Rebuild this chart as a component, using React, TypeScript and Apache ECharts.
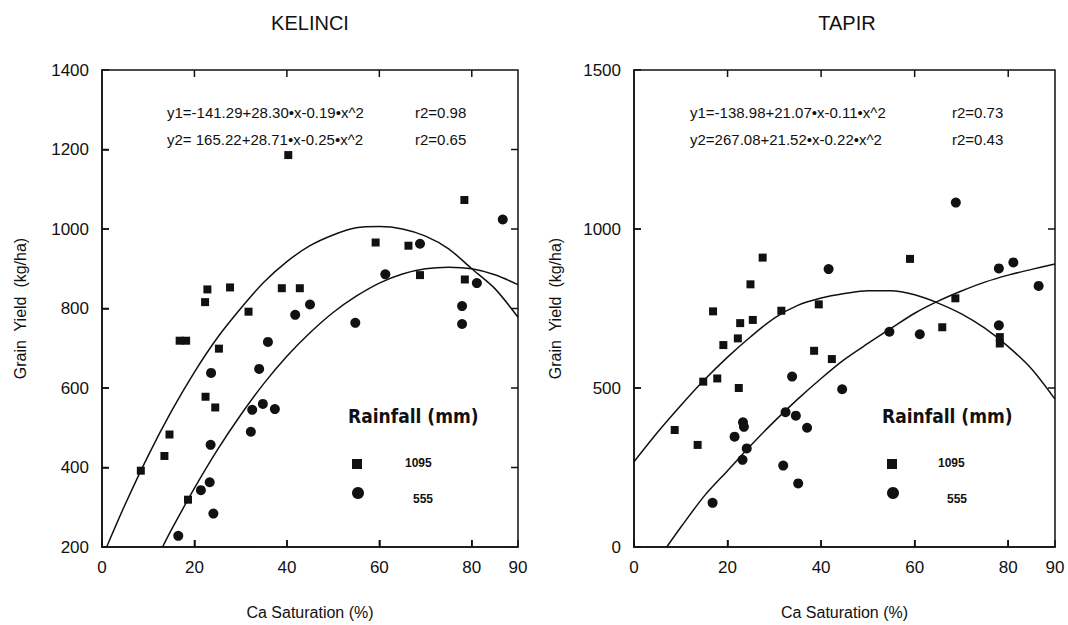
import React, { useEffect, useRef } from "react";
import * as echarts from "echarts";

// ---- KELINCI data (Ca saturation %, grain yield kg/ha) ----
const kelinci1095: number[][] = [
  [8.4, 392], [13.5, 429], [14.6, 483], [16.8, 719], [18.2, 719], [18.6, 319],
  [22.3, 816], [22.4, 578], [22.8, 848], [24.5, 551], [25.3, 699], [27.7, 853],
  [31.7, 792], [38.9, 851], [40.3, 1186], [42.8, 851], [59.2, 966], [66.3, 958],
  [68.8, 884], [78.4, 1073], [78.5, 873],
];
const kelinci555: number[][] = [
  [16.5, 228], [21.4, 343], [23.3, 363], [23.5, 457], [23.6, 638], [24.1, 284],
  [32.2, 490], [32.5, 545], [34.0, 648], [34.8, 560], [35.9, 716], [37.4, 547],
  [41.8, 784], [45.0, 810], [54.8, 764], [61.3, 886], [68.8, 963], [77.9, 806],
  [77.9, 761], [81.1, 864], [86.7, 1024],
];
// fitted curves, values
const kelinciCurveUpper: number[][] = [
  [1, 200], [5, 307], [10, 430], [15, 541], [20, 640], [25, 727], [30, 800],
  [35, 866], [40, 918], [45, 958], [50, 985], [55, 1003], [60, 1006], [65, 1000],
  [70, 982], [75, 950], [80, 900], [85, 850], [90, 778],
];
const kelinciCurveLower: number[][] = [
  [13.1, 200], [15, 243], [20, 348], [25, 445], [30, 532], [35, 611], [40, 680],
  [45, 739], [50, 790], [55, 831], [60, 864], [65, 887], [70, 900], [75, 904],
  [80, 900], [85, 885], [90, 860],
];

// ---- TAPIR data ----
const tapir1095: number[][] = [
  [8.7, 368], [13.6, 321], [14.8, 520], [16.9, 741], [17.8, 530], [19.1, 635],
  [22.2, 656], [22.4, 500], [22.7, 704], [24.9, 826], [25.4, 714], [27.5, 910],
  [31.5, 743], [38.5, 617], [39.5, 763], [42.3, 591], [59.0, 906], [65.9, 691],
  [68.7, 782], [78.2, 660], [78.2, 640],
];
const tapir555: number[][] = [
  [16.8, 139], [21.5, 347], [23.2, 274], [23.3, 392], [23.5, 378], [24.1, 310],
  [31.9, 256], [32.4, 424], [33.8, 536], [34.6, 413], [35.1, 200], [37.0, 375],
  [41.6, 874], [44.5, 496], [54.6, 677], [61.1, 669], [68.8, 1083], [78.0, 876],
  [78.0, 697], [81.1, 895], [86.5, 821],
];
const tapirCurveUpper: number[][] = [
  [0, 268], [5, 360], [10, 445], [15, 525], [20, 597], [25, 662], [30, 720],
  [35, 760], [40, 783], [45, 797], [50, 806], [55, 806], [60, 793], [65, 767],
  [70, 733], [75, 688], [80, 630], [85, 560], [90, 465],
];
const tapirCurveLower: number[][] = [
  [7, 0], [10, 62], [15, 160], [20, 240], [25, 320], [30, 395], [35, 465],
  [40, 530], [45, 590], [50, 640], [55, 688], [60, 735], [65, 773], [70, 805],
  [75, 833], [80, 855], [85, 873], [90, 890],
];

// axis ticks
const xRange = [0, 90];
const xTicks = [20, 40, 60, 80];
const yRangeKelinci = [200, 1400];
const yTicksKelinci = [400, 600, 800, 1000, 1200];
const yRangeTapir = [0, 1500];
const yTicksTapir = [500, 1000];

const titles = ["KELINCI", "TAPIR"];
const eqKelinci = ["y1=-141.29+28.30•x-0.19•x^2", "y2= 165.22+28.71•x-0.25•x^2"];
const r2Kelinci = ["r2=0.98", "r2=0.65"];
const eqTapir = ["y1=-138.98+21.07•x-0.11•x^2", "y2=267.08+21.52•x-0.22•x^2"];
const r2Tapir = ["r2=0.73", "r2=0.43"];
const legendTitle = "Rainfall (mm)";
const legendNames = ["1095", "555"];

const FONT = "Liberation Sans, Arial, sans-serif";
const INK = "#111";

export default function App() {
  const ref = useRef<HTMLDivElement>(null);
  useEffect(() => {
    document.body.style.margin = "0";
    if (!ref.current) return;
    const chart = echarts.init(ref.current, undefined, { renderer: "svg" });

    const grids = [
      { left: 102, top: 70, width: 416, height: 477, outerBoundsMode: "none" },
      { left: 634, top: 70, width: 421, height: 477, outerBoundsMode: "none" },
    ];
    const yRanges = [yRangeKelinci, yRangeTapir];
    const yTickSets = [yTicksKelinci, yTicksTapir];
    const yIntervals = [200, 500];
    const nameGapsY = [74, 71];
    const fmt = (v: number) => String(v);

    const xAxes: any[] = [];
    const yAxes: any[] = [];
    grids.forEach((g, i) => {
      xAxes.push({
        type: "value", gridIndex: i, min: xRange[0], max: xRange[1], interval: 20,
        name: "Ca Saturation (%)", nameLocation: "middle", nameGap: 57,
        nameTextStyle: { fontFamily: FONT, fontSize: 16, color: INK },
        axisLine: { show: true, lineStyle: { color: INK, width: 1.5 } },
        axisTick: { show: true, inside: true, length: 7, lineStyle: { color: INK, width: 1.5 } },
        axisLabel: { fontFamily: FONT, fontSize: 17, color: INK, margin: 12, formatter: fmt },
        splitLine: { show: false },
      });
      yAxes.push({
        type: "value", gridIndex: i, min: yRanges[i][0], max: yRanges[i][1], interval: yIntervals[i],
        name: "Grain  Yield  (kg/ha)", nameLocation: "middle", nameGap: nameGapsY[i],
        nameTextStyle: { fontFamily: FONT, fontSize: 16, color: INK },
        axisLine: { show: true, lineStyle: { color: INK, width: 1.5 } },
        axisTick: { show: true, inside: true, length: 7, lineStyle: { color: INK, width: 1.5 } },
        axisLabel: { fontFamily: FONT, fontSize: 17, color: INK, margin: 13, formatter: fmt },
        splitLine: { show: false },
      });
    });

    const scatter = (data: number[][], grid: number, symbol: string, size: number, name: string) => ({
      type: "scatter", name, xAxisIndex: grid, yAxisIndex: grid, data,
      symbol, symbolSize: size, itemStyle: { color: INK, opacity: 1 },
    });
    const curve = (data: number[][], grid: number) => ({
      type: "line", xAxisIndex: grid, yAxisIndex: grid, data, smooth: 0.3,
      showSymbol: false, symbol: "none",
      lineStyle: { color: INK, width: 1.5 },
    });

    chart.setOption({
      animation: false,
      title: [
        { text: titles[0], left: 305, top: 8, textAlign: "center",
          textStyle: { fontFamily: FONT, fontSize: 20, fontWeight: "normal", color: INK } },
        { text: titles[1], left: 842, top: 8, textAlign: "center",
          textStyle: { fontFamily: FONT, fontSize: 20, fontWeight: "normal", color: INK } },
      ],
      grid: grids,
      xAxis: xAxes,
      yAxis: yAxes,
      series: [
        curve(kelinciCurveUpper, 0),
        curve(kelinciCurveLower, 0),
        scatter(kelinci1095, 0, "rect", 8, "1095"),
        scatter(kelinci555, 0, "circle", 10, "555"),
        curve(tapirCurveUpper, 1),
        curve(tapirCurveLower, 1),
        scatter(tapir1095, 1, "rect", 8, "1095"),
        scatter(tapir555, 1, "circle", 10, "555"),
      ],
    });

    // frame and inside ticks on all four sides, positioned through the axes' scales
    const frameEls: any[] = [];
    const stroke = { stroke: INK, lineWidth: 1.5, fill: "none" };
    grids.forEach((g, i) => {
      const p0 = chart.convertToPixel({ gridIndex: i }, [xRange[0], yRanges[i][1]]) as number[];
      const p1 = chart.convertToPixel({ gridIndex: i }, [xRange[1], yRanges[i][0]]) as number[];
      const [xl, yt] = p0;
      const [xr, yb] = p1;
      frameEls.push({ type: "rect", z: 50, shape: { x: xl, y: yt, width: xr - xl, height: yb - yt }, style: { ...stroke } });
      xTicks.forEach((v) => {
        const px = (chart.convertToPixel({ gridIndex: i }, [v, yRanges[i][0]]) as number[])[0];
        frameEls.push({ type: "line", z: 50, shape: { x1: px, y1: yb, x2: px, y2: yb - 7 }, style: { ...stroke } });
        frameEls.push({ type: "line", z: 50, shape: { x1: px, y1: yt, x2: px, y2: yt + 7 }, style: { ...stroke } });
      });
      yTickSets[i].forEach((v) => {
        const py = (chart.convertToPixel({ gridIndex: i }, [xRange[0], v]) as number[])[1];
        frameEls.push({ type: "line", z: 50, shape: { x1: xl, y1: py, x2: xl + 7, y2: py }, style: { ...stroke } });
        frameEls.push({ type: "line", z: 50, shape: { x1: xr, y1: py, x2: xr - 7, y2: py }, style: { ...stroke } });
      });
    });

    const eqBlock = (x: number, rx: number, eqs: string[], r2s: string[]) => [
      { type: "text", left: x, top: 105, style: { text: eqs[0], font: `15px ${FONT}`, fill: INK } },
      { type: "text", left: rx, top: 105, style: { text: r2s[0], font: `15px ${FONT}`, fill: INK } },
      { type: "text", left: x, top: 132, style: { text: eqs[1], font: `15px ${FONT}`, fill: INK } },
      { type: "text", left: rx, top: 132, style: { text: r2s[1], font: `15px ${FONT}`, fill: INK } },
    ];
    const legendBlock = (cx: number, sqX: number, t1: number, t2: number) => [
      {
        type: "text", left: cx - 71, top: 406,
        style: { text: legendTitle, font: `bold 19px "DejaVu Sans Condensed", ${FONT}`, fill: INK },
      },
      { type: "rect", shape: { x: sqX - 5, y: 459, width: 10, height: 10 }, style: { fill: INK } },
      { type: "circle", shape: { cx: sqX + 1, cy: 493, r: 6 }, style: { fill: INK } },
      { type: "text", left: t1, top: 457, style: { text: legendNames[0], font: `bold 12px ${FONT}`, fill: INK } },
      { type: "text", left: t2, top: 493, style: { text: legendNames[1], font: `bold 12px ${FONT}`, fill: INK } },
    ];

    chart.setOption({
      graphic: [
        ...frameEls,
        ...eqBlock(167, 415, eqKelinci, r2Kelinci),
        ...eqBlock(690, 952, eqTapir, r2Tapir),
        ...legendBlock(419, 357, 405, 413),
        ...legendBlock(953, 892, 938, 947),
      ],
    });
    return () => chart.dispose();
  }, []);
  return <div ref={ref} style={{ width: 1068, height: 625 }} />;
}
